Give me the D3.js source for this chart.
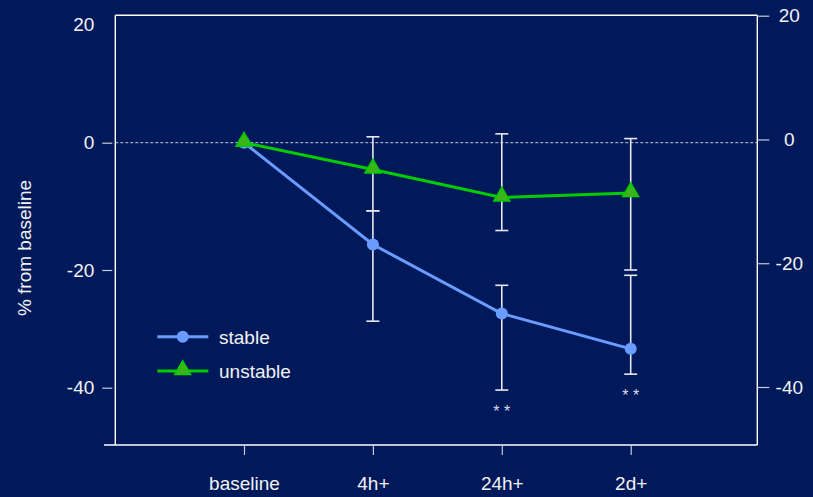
<!DOCTYPE html>
<html>
<head>
<meta charset="utf-8">
<script src="https://cdn.jsdelivr.net/npm/d3@7/dist/d3.min.js"></script>
<style>
  html, body { margin: 0; padding: 0; background: #00195b; }
  svg { display: block; font-family: "Liberation Sans", Arial, sans-serif; }
</style>
</head>
<body>
<svg id="chart" width="813" height="497"></svg>
<script>
// Time points after baseline
const categories = ["baseline", "4h+", "24h+", "2d+"];

// Mean % change from baseline
const stableMean   = [0, -16.0, -27.4, -33.4];
const unstableMean = [0, -4.2, -8.6, -7.9];

// Error bar extents (upper / lower), % from baseline
const stableHigh   = [null, -10.7, -22.6, -20.9];
const stableLow    = [null, -28.7, -40.4, -37.7];
const unstableHigh = [null, 1.0, 1.5, 0.7];
const unstableLow  = [null, -10.7, -13.8, -20.0];

// Significance markers under each time point
const significance = ["", "", "* *", "* *"];

// Axis ticks
const leftTicks  = [20, 0, -20, -40];
const rightTicks = [20, 0, -20, -40];

const svg = d3.select("#chart");
const plot = { left: 115.3, right: 757.3, top: 15.3, bottom: 445 };

const axisColor = "#ffffff";
const tickColor = "#c8ccd8";
const textColor = "#f2f2f2";
const blue = "#6a9cff";
const green = "#00cc00";
const greenFill = "#3fb41a";
const fs = 19;
const fmt = d => String(d); // plain hyphen-minus for negatives

// Scales
const x = d3.scalePoint().domain(categories).range([115.1, 759.6]).padding(1);
const y = d3.scaleLinear()
  .domain([20, 0, -20, -40, -50])
  .range([24.7, 142.7, 270, 387.7, 446.5]);
const yRight = d3.scaleLinear().domain([20, -40]).range([15.7, 387]);

// Plot frame
const frame = svg.append("g").attr("stroke", axisColor).attr("stroke-width", 1.4).attr("fill", "none");
frame.append("line").attr("x1", plot.left).attr("x2", plot.right).attr("y1", plot.top).attr("y2", plot.top);
frame.append("line").attr("x1", plot.right).attr("x2", plot.right).attr("y1", plot.top).attr("y2", plot.bottom);
frame.append("line").attr("x1", 104).attr("x2", plot.right).attr("y1", plot.bottom).attr("y2", plot.bottom);
frame.append("line").attr("x1", plot.left).attr("x2", plot.left).attr("y1", plot.top).attr("y2", plot.bottom);

// Zero reference line
svg.append("line")
  .attr("x1", plot.left).attr("x2", plot.right)
  .attr("y1", y(0)).attr("y2", y(0))
  .attr("stroke", "#c8ccd8").attr("stroke-width", 1)
  .attr("stroke-dasharray", "3,2");

// Left axis (offset ticks, no tick mark at the top value)
const leftAxis = svg.append("g")
  .attr("transform", `translate(${plot.left - 3},0)`)
  .call(d3.axisLeft(y).tickValues(leftTicks).tickSize(10).tickPadding(8).tickFormat(fmt));
leftAxis.select(".domain").remove();
leftAxis.selectAll(".tick line").attr("stroke", tickColor).attr("stroke-width", 1.2);
leftAxis.selectAll(".tick").filter(d => d > 0).select("line").remove();
leftAxis.selectAll(".tick text")
  .attr("fill", textColor).attr("font-size", fs)
  .attr("font-family", "Liberation Sans, Arial, sans-serif");

// Right axis
const rightAxis = svg.append("g")
  .attr("transform", `translate(${plot.right},0)`)
  .call(d3.axisRight(yRight).tickValues(rightTicks).tickSize(12).tickPadding(0).tickFormat(fmt));
rightAxis.select(".domain").remove();
rightAxis.selectAll(".tick line").attr("stroke", tickColor).attr("stroke-width", 1.2);
rightAxis.selectAll(".tick text")
  .attr("x", 32).attr("text-anchor", "middle")
  .attr("fill", textColor).attr("font-size", fs)
  .attr("font-family", "Liberation Sans, Arial, sans-serif");

// Bottom axis
const bottomAxis = svg.append("g")
  .attr("transform", `translate(0,${plot.bottom})`)
  .call(d3.axisBottom(x).tickSize(10).tickPadding(22));
bottomAxis.select(".domain").remove();
bottomAxis.selectAll(".tick line").attr("stroke", tickColor).attr("stroke-width", 1.2);
bottomAxis.selectAll(".tick text")
  .attr("fill", textColor).attr("font-size", fs)
  .attr("font-family", "Liberation Sans, Arial, sans-serif");

// Y axis title
svg.append("text")
  .attr("transform", `translate(31,248) rotate(-90)`)
  .attr("text-anchor", "middle")
  .attr("fill", textColor).attr("font-size", fs)
  .text("% from baseline");

// Error bars
function errorBars(high, low) {
  const g = svg.append("g").attr("stroke", "#e6e8ee").attr("stroke-width", 1.6);
  categories.forEach((c, i) => {
    if (high[i] == null) return;
    const cx = x(c), hw = 6.5;
    g.append("line").attr("x1", cx).attr("x2", cx).attr("y1", y(high[i])).attr("y2", y(low[i]));
    g.append("line").attr("x1", cx - hw).attr("x2", cx + hw).attr("y1", y(high[i])).attr("y2", y(high[i]));
    g.append("line").attr("x1", cx - hw).attr("x2", cx + hw).attr("y1", y(low[i])).attr("y2", y(low[i]));
  });
}
errorBars(unstableHigh, unstableLow);
errorBars(stableHigh, stableLow);

// Series lines and markers
const line = d3.line().x((d, i) => x(categories[i])).y(d => y(d));
const tri = d3.symbol().type(d3.symbolTriangle).size(110);

svg.append("path").datum(stableMean).attr("d", line)
  .attr("fill", "none").attr("stroke", blue).attr("stroke-width", 3);
svg.append("g").selectAll("circle").data(stableMean).join("circle")
  .attr("cx", (d, i) => x(categories[i])).attr("cy", d => y(d))
  .attr("r", 6).attr("fill", blue);

svg.append("path").datum(unstableMean).attr("d", line)
  .attr("fill", "none").attr("stroke", green).attr("stroke-width", 3);
svg.append("g").selectAll("path").data(unstableMean).join("path")
  .attr("d", tri)
  .attr("transform", (d, i) => `translate(${x(categories[i])},${y(d) - 1})`)
  .attr("fill", greenFill).attr("stroke", green).attr("stroke-width", 1.5);

// Significance markers below the stable error bars
svg.append("g").selectAll("text").data(significance).join("text")
  .attr("x", (d, i) => x(categories[i]))
  .attr("y", (d, i) => stableLow[i] == null ? 0 : y(stableLow[i]) + 27)
  .attr("text-anchor", "middle")
  .attr("fill", "#d8dbe6").attr("font-size", 16)
  .text(d => d);

// Legend
const legend = svg.append("g");
const legendItems = [
  { label: "stable", color: blue, y: 336.7, shape: "circle" },
  { label: "unstable", color: green, y: 371, shape: "triangle" }
];
legendItems.forEach(item => {
  legend.append("line").attr("x1", 157.3).attr("x2", 208.3)
    .attr("y1", item.y).attr("y2", item.y)
    .attr("stroke", item.color).attr("stroke-width", 3);
  if (item.shape === "circle") {
    legend.append("circle").attr("cx", 182.7).attr("cy", item.y).attr("r", 6).attr("fill", blue);
  } else {
    legend.append("path").attr("d", tri)
      .attr("transform", `translate(182.7,${item.y - 1})`)
      .attr("fill", greenFill).attr("stroke", green).attr("stroke-width", 1.5);
  }
  legend.append("text").attr("x", 219).attr("y", item.y).attr("dy", "0.38em")
    .attr("fill", textColor).attr("font-size", fs).text(item.label);
});
</script>
</body>
</html>
